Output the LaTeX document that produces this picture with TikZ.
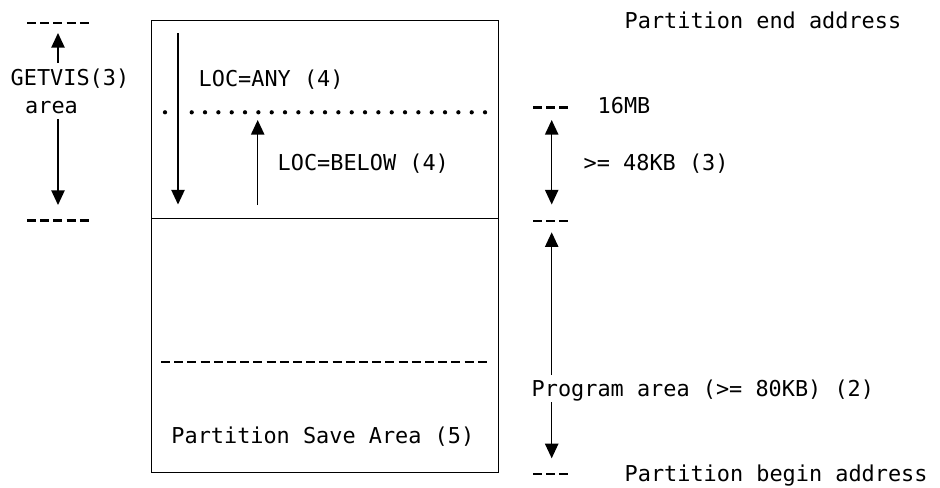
\documentclass[tikz,border=0pt]{standalone}
\usepackage{fontspec}
\setmonofont{DejaVu Sans Mono}
\usetikzlibrary{arrows.meta}

\tikzset{every picture/.style={line width=1.1pt}}
\tikzset{
  lbl/.style={anchor=base west,inner sep=0pt,font=\ttfamily\fontsize{16.4}{20}\selectfont},
  tip/.style={-{Triangle[length=11pt,width=10pt]}},
  twotip/.style={{Triangle[length=11pt,width=10pt]}-{Triangle[length=11pt,width=10pt]}},
  rule/.style={line width=1.8pt,dash pattern={on 6.8pt off 3.1pt}},
  dots/.style={line width=3.2pt,line cap=round,dash pattern={on 0pt off 10pt}}
}

\begin{document}
\begin{tikzpicture}[x=0.75pt,y=0.75pt,yscale=-1,xscale=1]
	\useasboundingbox (0,0) rectangle (940,487);
	
	%Shape: Rectangle [id:partition]
	\draw  (151.7,20.7) rectangle (498.3,472.3) ;
	%Straight Lines [id:split]
	\draw    (151.7,218.7) -- (498.3,218.7) ;
	%Dotted line [id:line16mb]
	\draw [dots]  (165,112.3) -- (165.1,112.3) ;
	\draw [dots]  (191.7,112.3) -- (486,112.3) ;
	%Dashed line [id:savetop]
	\draw [rule]  (161,361.7) -- (487,361.7) ;
	
	%Left marks
	\draw [rule]  (27,22.7) -- (89,22.7) ;
	\draw [rule]  (27,220.3) -- (89,220.3) ;
	%Right marks
	\draw [rule]  (533,107.3) -- (569,107.3) ;
	\draw [rule]  (533,220.7) -- (569,220.7) ;
	\draw [rule]  (533,474) -- (569,474) ;
	
	% Text Node
	\draw (624,28) node [lbl] (endaddr) {Partition end address};
	% Text Node
	\draw (10,85) node [lbl] (getvis) {GETVIS(3)};
	% Text Node
	\draw (24.5,113.3) node [lbl] (area) {area};
	% Text Node
	\draw (198,86) node [lbl] (locany) {LOC=ANY (4)};
	% Text Node
	\draw (277,170) node [lbl] (locbelow) {LOC=BELOW (4)};
	% Text Node
	\draw (597,113.3) node [lbl] (mb16) {16MB};
	% Text Node
	\draw (583,170) node [lbl] (kb48) {>= 48KB (3)};
	% Text Node
	\draw (531,396.7) node [lbl] (prog) {Program area (>= 80KB) (2)};
	% Text Node
	\draw (170.7,443) node [lbl] (psa) {Partition Save Area (5)};
	% Text Node
	\draw (624,481.7) node [lbl] (beginaddr) {Partition begin address};
	
	%Arrow ends
	\coordinate (gtop) at (58,33);
	\coordinate (gtail) at (58,63);
	\coordinate (ghead) at (58,119);
	\coordinate (gbot) at (58,205);
	\coordinate (anytop) at (178,33);
	\coordinate (anybot) at (178,204.5);
	\coordinate (belowbot) at (257.7,205);
	\coordinate (belowtop) at (257.7,120);
	\coordinate (kbtop) at (551.7,120);
	\coordinate (kbbot) at (551.7,204.5);
	\coordinate (progtop) at (551.7,232.3);
	\coordinate (progup) at (551.7,375);
	\coordinate (progdown) at (551.7,402);
	\coordinate (progbot) at (551.7,458.3);
	
	%Straight Lines [id:getvisup]
	\draw [tip]  (gtail) -- (gtop) ;
	%Straight Lines [id:getvisdown]
	\draw [tip]  (ghead) -- (gbot) ;
	%Straight Lines [id:anyarrow]
	\draw [tip]  (anytop) -- (anybot) ;
	%Straight Lines [id:belowarrow]
	\draw [tip]  (belowbot) -- (belowtop) ;
	%Straight Lines [id:kbarrow]
	\draw [twotip]  (kbtop) -- (kbbot) ;
	%Straight Lines [id:progarrowup]
	\draw [tip]  (progup) -- (progtop) ;
	%Straight Lines [id:progarrowdown]
	\draw [tip]  (progdown) -- (progbot) ;
	
\end{tikzpicture}
\end{document}
